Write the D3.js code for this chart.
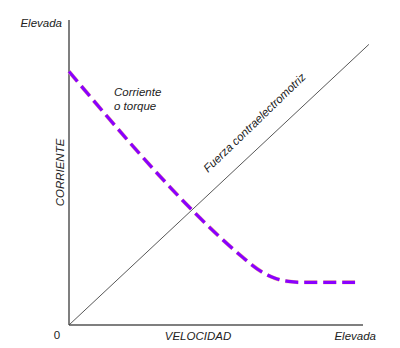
<!DOCTYPE html>
<html><head><meta charset="utf-8">
<script src="https://cdn.jsdelivr.net/npm/d3@7"></script>
<style>body{margin:0;background:#fff}svg{display:block}text{font-family:"Liberation Sans",Arial,sans-serif;font-style:italic;fill:#222}</style>
</head><body><svg id="c" width="400" height="348"></svg>
<script>
const emfX = [0, 102];
const emfY = [0, 92];
const currentX = [0, 59.2, 62.2, 65.6, 70.1, 74.6, 78.6, 97.3];
const currentY = [83.1, 22.1, 19.7, 17.4, 15.3, 14.3, 14.0, 14.0];
const labels = {yTop: "Elevada", yTitle: "CORRIENTE", origin: "0", xTitle: "VELOCIDAD", xEnd: "Elevada",
  current: ["Corriente", "o torque"], emf: "Fuerza contraelectromotriz"};

const svg = d3.select("#c");
const x = d3.scaleLinear().domain([0, 100]).range([69, 363]);
const y = d3.scaleLinear().domain([0, 100]).range([325, 20]);

// axes
svg.append("line").attr("x1", x(0)).attr("x2", x(0)).attr("y1", y(100)).attr("y2", y(0)).attr("stroke", "#555").attr("stroke-width", 1.5);
svg.append("line").attr("x1", x(0)).attr("x2", x(100)).attr("y1", y(0)).attr("y2", y(0)).attr("stroke", "#555").attr("stroke-width", 1.5);

const line = d3.line().x(d => x(d[0])).y(d => y(d[1]));
svg.append("path").datum(d3.zip(emfX, emfY)).attr("d", line).attr("fill", "none").attr("stroke", "#444").attr("stroke-width", 0.9);

const curve = d3.line().x(d => x(d[0])).y(d => y(d[1])).curve(d3.curveMonotoneX);
const cd = d3.zip(currentX, currentY);
svg.append("path").datum(cd).attr("d", curve).attr("fill", "none").attr("stroke", "#f5c090").attr("stroke-width", 4).attr("stroke-dasharray", "13,6");
svg.append("path").datum(cd).attr("d", curve).attr("fill", "none").attr("stroke", "#8a00ff").attr("stroke-width", 3.2).attr("stroke-dasharray", "13,6");

// texts
const fs = 11.5;
svg.append("text").attr("x", 62).attr("y", 27).attr("text-anchor", "end").attr("font-size", fs).text(labels.yTop);
svg.append("text").attr("transform", `translate(64,${y(50)}) rotate(-90)`).attr("text-anchor", "middle").attr("font-size", fs).text(labels.yTitle);
svg.append("text").attr("x", 57).attr("y", 339).attr("text-anchor", "middle").attr("font-size", fs).style("font-style", "normal").text(labels.origin);
svg.append("text").attr("x", 198).attr("y", 340).attr("text-anchor", "middle").attr("font-size", fs).text(labels.xTitle);
svg.append("text").attr("x", 376).attr("y", 340).attr("text-anchor", "end").attr("font-size", fs).text(labels.xEnd);
svg.append("text").attr("x", 114).attr("y", 96).attr("font-size", fs).text(labels.current[0]);
svg.append("text").attr("x", 114).attr("y", 110).attr("font-size", fs).text(labels.current[1]);
svg.append("text").attr("transform", "translate(208,173) rotate(-44)").attr("font-size", fs).text(labels.emf);
</script></body></html>
